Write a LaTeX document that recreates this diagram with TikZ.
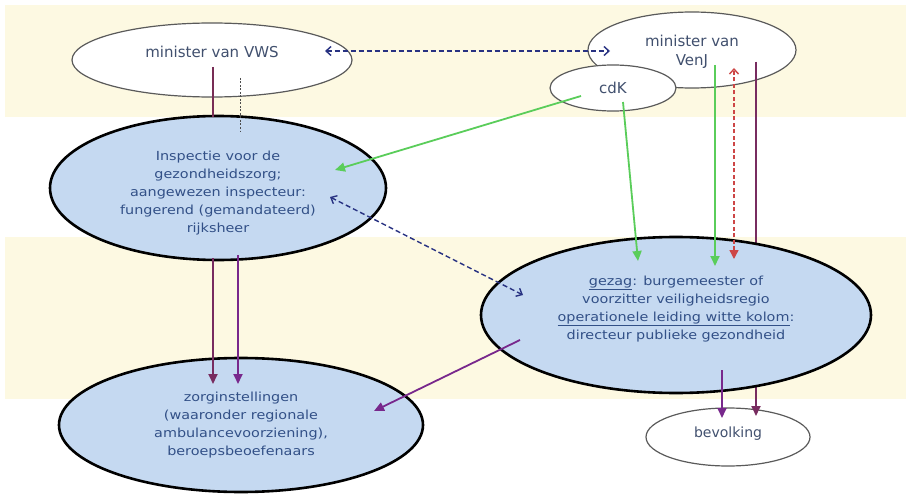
\documentclass[tikz,border=0pt]{standalone}
\usepackage{fontspec}
\setmainfont{DejaVu Sans}
\newfontfamily\widefont[FakeStretch=1.15]{DejaVu Sans}
\usetikzlibrary{shapes.geometric,arrows.meta}
\definecolor{beige}{RGB}{253,249,226}
\definecolor{lightblue}{RGB}{197,217,241}
\definecolor{ellgray}{RGB}{90,90,90}
\definecolor{mintext}{RGB}{65,80,110}
\definecolor{intext}{RGB}{50,80,135}
\definecolor{navy}{RGB}{40,50,130}
\definecolor{gline}{RGB}{90,205,90}
\definecolor{maroon}{RGB}{120,45,85}
\definecolor{purp}{RGB}{120,40,140}
\definecolor{rline}{RGB}{205,70,70}
\tikzset{
  whiteell/.style={ellipse, draw=ellgray, line width=1.2pt, fill=white, inner sep=0pt},
  blueell/.style={ellipse, draw=black, line width=2.6pt, fill=lightblue, inner sep=0pt},
  mtxt/.style={text=mintext, font=\fontsize{15}{19}\selectfont, align=center, inner sep=0pt},
  itxt/.style={text=intext, font=\widefont\fontsize{12.5}{18}\selectfont, align=center, inner sep=0pt},
  navyarr/.style={navy, line width=1.4pt, dash pattern=on 5pt off 3pt, {Straight Barb[length=5pt,width=9pt]}-{Straight Barb[length=5pt,width=9pt]}},
  greenarr/.style={gline, line width=1.8pt, -{Triangle[length=10pt,width=9pt]}},
  purparr/.style={purp, line width=1.8pt, -{Triangle[length=10pt,width=9pt]}},
}
\begin{document}
\begin{tikzpicture}[x=1pt,y=-1pt]
\fill[white] (0,0) rectangle (906,495);
\useasboundingbox (0,0) rectangle (906,495);
\fill[beige] (5,5) rectangle (906,117);
\fill[beige] (5,237) rectangle (906,399);
% end points
\coordinate (vwsR) at (325,51);
\coordinate (venjL) at (610,51);
\coordinate (vwsB) at (213,67);
\coordinate (inspT) at (213,117);
\coordinate (vwsD) at (240,78);
\coordinate (inspD) at (240,132);
\coordinate (cdkA) at (581,96);
\coordinate (inspG) at (335,170);
\coordinate (cdkB) at (623,102);
\coordinate (gezG1) at (638,261);
\coordinate (venjG) at (715,65);
\coordinate (gezG2) at (715,266);
\coordinate (gezR) at (734,259);
\coordinate (venjR) at (734,68);
\coordinate (venjP) at (756,62);
\coordinate (bevP1) at (756,416);
\coordinate (gezP) at (722,370);
\coordinate (bevP2) at (722,418);
\coordinate (inspB1) at (213,258);
\coordinate (zorgT1) at (213,384);
\coordinate (inspB2) at (238,255);
\coordinate (zorgT2) at (238,384);
\coordinate (gezZ) at (520,340);
\coordinate (zorgR) at (374,411);
\coordinate (inspN) at (330,197);
\coordinate (gezN) at (523,295);
% top ellipses
\node[whiteell, minimum width=280pt, minimum height=74pt, label={[mtxt, yshift=8pt]center:minister van VWS}] (vws) at (212,60) {};
\node[whiteell, minimum width=208pt, minimum height=76pt, label={[mtxt, yshift=-2pt]center:minister van\\VenJ}] (venj) at (692,50) {};
\node[whiteell, minimum width=126pt, minimum height=46pt, label={[mtxt]center:cdK}] (cdk) at (613,88) {};
\node[whiteell, minimum width=164pt, minimum height=58pt, label={[mtxt, font=\fontsize{14}{17}\selectfont, yshift=3pt]center:bevolking}] (bev) at (728,437) {};
% line behind the gezag ellipse
\draw[purparr, draw=maroon!80!purp, fill=maroon!80!purp] (venjP) -- (bevP1);
% blue ellipses
\node[blueell, minimum width=336pt, minimum height=144pt, label={[itxt, yshift=-5pt]center:Inspectie voor de\\gezondheidszorg;\\aangewezen inspecteur:\\fungerend (gemandateerd)\\rijksheer}] (insp) at (218,188) {};
\node[blueell, minimum width=390pt, minimum height=156pt, label={[itxt, yshift=6pt]center:\underline{gezag}: burgemeester of\\voorzitter veiligheidsregio\\\underline{operationele leiding witte kolom}:\\directeur publieke gezondheid}] (gez) at (676,315) {};
\node[blueell, minimum width=364pt, minimum height=134pt, label={[itxt]center:zorginstellingen\\(waaronder regionale\\ambulancevoorziening),\\beroepsbeoefenaars}] (zorg) at (241,425) {};
% connectors
\draw[navyarr] (vwsR) -- (venjL);
\draw[maroon, line width=2pt] (vwsB) -- (inspT);
\draw[black!70, line width=0.6pt, dash pattern=on 2pt off 1.5pt] (vwsD) -- (inspD);
\draw[greenarr] (cdkA) -- (inspG);
\draw[greenarr] (cdkB) -- (gezG1);
\draw[greenarr] (venjG) -- (gezG2);
\draw[rline, line width=1.4pt, dash pattern=on 4pt off 2.5pt, {Triangle[length=9pt,width=9pt]}-{Straight Barb[length=5pt,width=9pt]}] (gezR) -- (venjR);
\draw[purparr] (gezP) -- (bevP2);
\draw[purparr, draw=maroon!80!purp, fill=maroon!80!purp] (inspB1) -- (zorgT1);
\draw[purparr] (inspB2) -- (zorgT2);
\draw[purparr] (gezZ) -- (zorgR);
\draw[navyarr] (inspN) -- (gezN);
\end{tikzpicture}
\end{document}
